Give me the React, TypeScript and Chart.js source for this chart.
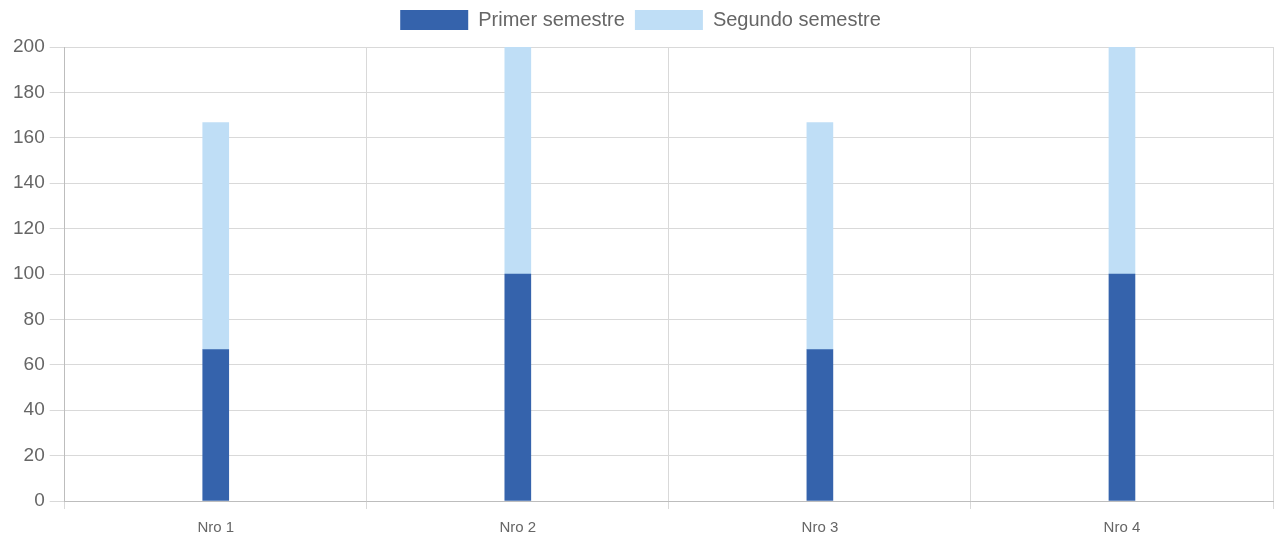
import React, { useEffect, useRef } from "react";
import { Chart, registerables } from "chart.js";

Chart.register(...registerables);

const categories = ["Nro 1", "Nro 2", "Nro 3", "Nro 4"];
const primerSemestre = [66.67, 100, 66.67, 100];
const segundoSemestre = [100, 100, 100, 100];
const yTicks = [0, 20, 40, 60, 80, 100, 120, 140, 160, 180, 200];

const FONT = "Liberation Sans, Arial, sans-serif";

const legendSpacer = {
  id: "legendSpacer",
  beforeInit(chart: any) {
    const legend = chart.legend;
    if (!legend) return;
    const origFit = legend.fit;
    legend.fit = function () {
      origFit.bind(this)();
      this.height += 7;
    };
  },
};

export default function App() {
  const ref = useRef<HTMLCanvasElement | null>(null);
  useEffect(() => {
    if (!ref.current) return;
    const chart = new Chart(ref.current, {
      type: "bar",
      data: {
        labels: categories,
        datasets: [
          { label: "Primer semestre", data: primerSemestre, backgroundColor: "#3563AC", barThickness: 26 },
          { label: "Segundo semestre", data: segundoSemestre, backgroundColor: "#BFDEF6", barThickness: 26 },
        ],
      },
      plugins: [legendSpacer],
      options: {
        animation: false,
        responsive: true,
        maintainAspectRatio: false,
        layout: { padding: { left: 8, right: 2, top: 0, bottom: -7 } },
        plugins: {
          legend: {
            position: "top",
            labels: {
              boxWidth: 68,
              boxHeight: 20,
              color: "#666",
              font: { family: FONT, size: 20 },
              padding: 10,
            },
          },
          tooltip: { enabled: false },
        },
        scales: {
          x: {
            stacked: true,
            grid: { color: "#d9d9d9", offset: true, tickLength: 8 },
            border: { color: "#bdbdbd" },
            ticks: { color: "#666", font: { family: FONT, size: 15 }, padding: 10 },
          },
          y: {
            stacked: true,
            min: 0,
            max: 200,
            afterBuildTicks: (axis: any) => {
              axis.ticks = yTicks.map((v) => ({ value: v }));
            },
            grid: { color: "#d9d9d9", tickLength: 15 },
            border: { color: "#bdbdbd" },
            ticks: { color: "#666", font: { family: FONT, size: 19 }, padding: 5 },
          },
        },
      },
    });
    return () => chart.destroy();
  }, []);
  return (
    <div style={{ position: "fixed", left: 0, top: 0, width: 1275, height: 540, background: "#fff" }}>
      <canvas ref={ref} />
    </div>
  );
}
